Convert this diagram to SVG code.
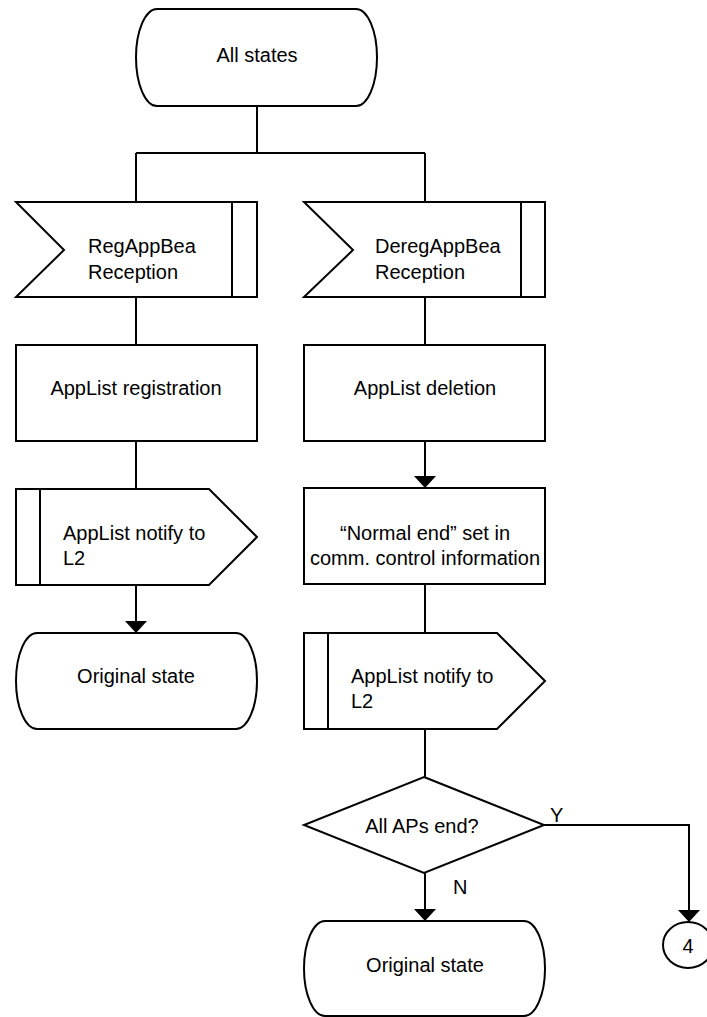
<svg xmlns="http://www.w3.org/2000/svg" width="707" height="1017" viewBox="0 0 707 1017">
<style>
.s{fill:#fff;stroke:#000;stroke-width:2}
.l{fill:none;stroke:#000;stroke-width:2}
text{font-family:"Liberation Sans",Arial,sans-serif;font-size:20px;fill:#000}
.c{text-anchor:middle}
</style>
<defs>
<marker id="ah" markerUnits="userSpaceOnUse" markerWidth="12" markerHeight="22" viewBox="0 0 12 22" refX="12" refY="11" orient="auto">
<path d="M0,0 L12,11 L0,22 Z" fill="#000"/>
</marker>
</defs>
<rect width="707" height="1017" fill="#fff"/>
<g id="connectors">
<path class="l" d="M257,106 V153 M136,153 H425 M136,153 V202 M425,153 V202"/>
<path class="l" d="M136,297 V345 M136,441 V489"/>
<path class="l" d="M136,585 V633" marker-end="url(#ah)"/>
<path class="l" d="M425,297 V345"/>
<path class="l" d="M425,441 V488" marker-end="url(#ah)"/>
<path class="l" d="M425,584 V633 M425,729 V777"/>
<path class="l" d="M425,873 V921" marker-end="url(#ah)"/>
<path class="l" d="M544,825 H689 V922" marker-end="url(#ah)"/>
<text x="550" y="822">Y</text>
<text x="453" y="894">N</text>
</g>
<g id="start">
<path class="s" d="M157,9 H356 A21,48.5 0 0 1 356,106 H157 A21,48.5 0 0 1 157,9 Z"/>
<text class="c" x="257" y="62">All states</text>
</g>
<g id="reg-reception">
<path class="s" d="M16,202 H257 V297 H16 L64,250 Z"/>
<path class="l" d="M232,202 V297"/>
<text x="88" y="253">RegAppBea</text>
<text x="88" y="279">Reception</text>
</g>
<g id="dereg-reception">
<path class="s" d="M304,202 H545 V297 H304 L353,250 Z"/>
<path class="l" d="M521,202 V297"/>
<text x="375" y="253">DeregAppBea</text>
<text x="375" y="279">Reception</text>
</g>
<g id="applist-registration">
<rect class="s" x="16" y="345" width="241" height="96"/>
<text class="c" x="136" y="395">AppList registration</text>
</g>
<g id="applist-deletion">
<rect class="s" x="304" y="345" width="241" height="96"/>
<text class="c" x="425" y="395">AppList deletion</text>
</g>
<g id="normal-end">
<rect class="s" x="304" y="488" width="241" height="96"/>
<text class="c" x="425" y="540">“Normal end” set in</text>
<text class="c" x="425" y="565">comm. control information</text>
</g>
<g id="notify-left">
<path class="s" d="M16,489 H209 L257,537 L209,585 H16 Z"/>
<path class="l" d="M40,489 V585"/>
<text x="63" y="540">AppList notify to</text>
<text x="63" y="565">L2</text>
</g>
<g id="notify-right">
<path class="s" d="M304,633 H497 L545,681 L497,729 H304 Z"/>
<path class="l" d="M328,633 V729"/>
<text x="351" y="683">AppList notify to</text>
<text x="351" y="708">L2</text>
</g>
<g id="original-left">
<path class="s" d="M37,633 H236 A21,48 0 0 1 236,729 H37 A21,48 0 0 1 37,633 Z"/>
<text class="c" x="136" y="683">Original state</text>
</g>
<g id="decision">
<path class="s" d="M424,777 L544,825 L424,873 L304,825 Z"/>
<text class="c" x="422" y="833">All APs end?</text>
</g>
<g id="original-right">
<path class="s" d="M325,921 H524 A21,47.5 0 0 1 524,1016 H325 A21,47.5 0 0 1 325,921 Z"/>
<text class="c" x="425" y="972">Original state</text>
</g>
<g id="connector-4">
<ellipse class="s" cx="688" cy="945" rx="25" ry="23"/>
<text class="c" x="688" y="953">4</text>
</g>
</svg>
